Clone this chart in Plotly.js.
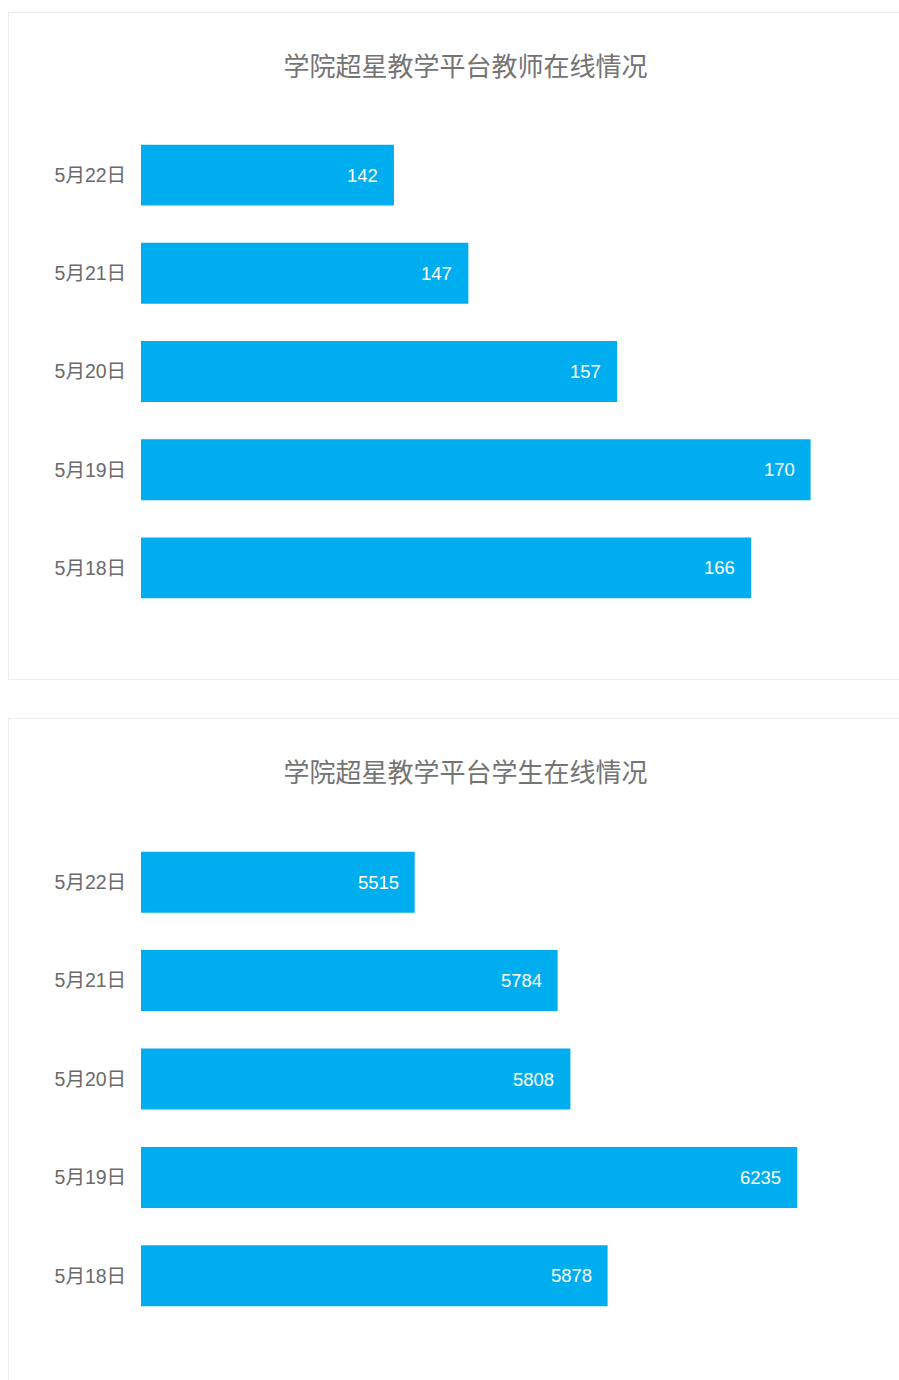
<!DOCTYPE html>
<html>
<head>
<meta charset="utf-8">
<script src="https://cdn.plot.ly/plotly-3.0.1.min.js"></script>
<style>
html,body{margin:0;padding:0;background:#fff;width:899px;height:1380px;overflow:hidden;position:relative;}
.card{position:absolute;left:8px;width:900px;border:1px solid #ececec;background:#fff;}
#c1{top:12px;height:666px;}
#c2{top:718px;height:680px;}
</style>
</head>
<body>
<div class="card" id="c1"><div id="g1"></div></div>
<div class="card" id="c2"><div id="g2"></div></div>
<script>
const dates = ['5月18日','5月19日','5月20日','5月21日','5月22日'];
const teacherValues = [166, 170, 157, 147, 142];
const studentValues = [5878, 6235, 5808, 5784, 5515];
const teacherTitle = '学院超星教学平台教师在线情况';
const studentTitle = '学院超星教学平台学生在线情况';
const teacherRange = [125, 175];
const studentRange = [5000, 6400];

const FONT = 'Liberation Sans, Arial, "Noto Sans CJK SC", sans-serif';
const BAR = '#00aeef';

function draw(id, title, values, range, height, t, plotH) {
  const b = height - t - plotH;
  const trace = {
    type: 'bar', orientation: 'h',
    y: dates, x: values,
    marker: {color: BAR, line: {width: 0}},
    hoverinfo: 'none'
  };
  const annotations = values.map((v, i) => ({
    x: v, y: dates[i], xref: 'x', yref: 'y',
    text: String(v), showarrow: false, xanchor: 'right', xshift: -14,
    font: {family: FONT, size: 18.5, color: '#ffffff'}
  }));
  const layout = {
    width: 900, height: height,
    margin: {l: 132, r: 24, t: t, b: b},
    paper_bgcolor: '#fff', plot_bgcolor: '#fff',
    showlegend: false,
    bargap: 0.38,
    title: {text: title, font: {family: FONT, size: 26, color: '#747474'},
            x: 456.5/900, xref: 'container', xanchor: 'center',
            y: 1 - 54/height, yref: 'container', yanchor: 'middle'},
    xaxis: {range: range, showgrid: false, zeroline: false,
            showline: false, showticklabels: false, ticks: ''},
    yaxis: {type: 'category', showgrid: false, zeroline: false, showline: false,
            ticks: 'outside', ticklen: 10, tickcolor: 'rgba(0,0,0,0)',
            tickfont: {family: FONT, size: 19.5, color: '#6a6a6a'}},
    annotations: annotations
  };
  Plotly.newPlot(id, [trace], layout, {displayModeBar: false, staticPlot: true});
}
draw('g1', teacherTitle, teacherValues, teacherRange, 666, 113, 491);
draw('g2', studentTitle, studentValues, studentRange, 680, 114, 492);
</script>
</body>
</html>
